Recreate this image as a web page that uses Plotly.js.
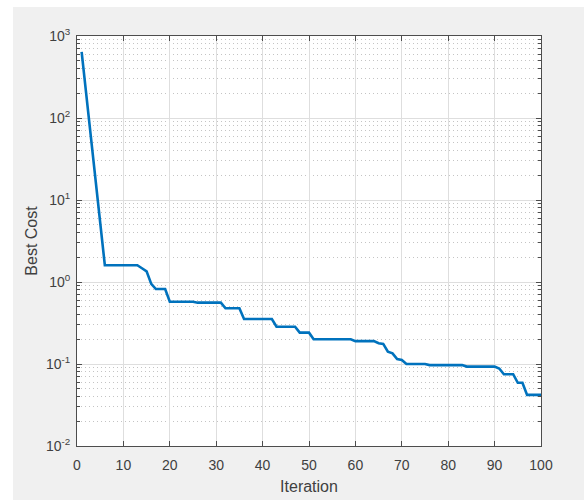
<!DOCTYPE html>
<html>
<head>
<meta charset="utf-8">
<script src="https://cdn.plot.ly/plotly-3.0.1.min.js"></script>
<style>html,body{margin:0;padding:0;background:#fff;}#chart{width:584px;height:500px;}</style>
</head>
<body>
<div id="chart"></div>
<script>
// Best cost per iteration
const iterations = Array.from({length: 100}, (_, i) => i + 1);
const bestCost = [
  640, 190, 57, 17.5, 5.3, 1.6, 1.6, 1.6, 1.6, 1.6,
  1.6, 1.6, 1.6, 1.47, 1.35, 0.95, 0.82, 0.82, 0.82, 0.575,
  0.575, 0.575, 0.575, 0.575, 0.575, 0.56, 0.56, 0.56, 0.56, 0.56,
  0.56, 0.478, 0.478, 0.478, 0.478, 0.354, 0.354, 0.354, 0.354, 0.354,
  0.354, 0.354, 0.285, 0.285, 0.285, 0.285, 0.285, 0.241, 0.241, 0.241,
  0.2, 0.2, 0.2, 0.2, 0.2, 0.2, 0.2, 0.2, 0.2, 0.19,
  0.19, 0.19, 0.19, 0.19, 0.179, 0.176, 0.141, 0.135, 0.115, 0.112,
  0.1, 0.1, 0.1, 0.1, 0.1, 0.097, 0.097, 0.097, 0.097, 0.097,
  0.097, 0.097, 0.097, 0.093, 0.093, 0.093, 0.093, 0.093, 0.093, 0.093,
  0.088, 0.075, 0.075, 0.075, 0.059, 0.059, 0.042, 0.042, 0.042, 0.042
];
const xTickVals = [0, 10, 20, 30, 40, 50, 60, 70, 80, 90, 100];
const yTickVals = [0.01, 0.1, 1, 10, 100, 1000];
const yTickText = ['10<sup>-2</sup>', '10<sup>-1</sup>', '10<sup>0</sup>', '10<sup>1</sup>', '10<sup>2</sup>', '10<sup>3</sup>'];
const minorMultipliers = [2, 3, 4, 5, 6, 7, 8, 9];

const yMinorVals = [];
yTickVals.slice(0, -1).forEach(d => minorMultipliers.forEach(m => yMinorVals.push(d * m)));

const axisColor = '#4d4d4d';
const font = {family: 'Liberation Sans, Arial, sans-serif', size: 14, color: '#404040'};
const titleFont = {family: 'Liberation Sans, Arial, sans-serif', size: 16, color: '#404040'};

const trace = {
  x: iterations, y: bestCost, type: 'scatter', mode: 'lines',
  line: {color: '#0072bd', width: 2.6}, hoverinfo: 'skip'
};

const L = 77, R = 43, T = 36, B = 54, W = 584, H = 500;
const pw = W - L - R, ph = H - T - B;
const px2x = p => (p - L) / pw;
const py2y = p => (H - B - p) / ph;

const layout = {
  width: W, height: H,
  margin: {l: L, r: R, t: T, b: B, pad: 0},
  paper_bgcolor: '#f0f0f0',
  plot_bgcolor: '#ffffff',
  font: font,
  showlegend: false,
  xaxis: {
    range: [0, 100], tickvals: xTickVals, ticks: 'inside', ticklen: 5, tickwidth: 1,
    tickcolor: axisColor, showline: true, linecolor: axisColor, linewidth: 1, mirror: 'allticks',
    showgrid: true, gridcolor: '#dedede', gridwidth: 1, zeroline: false,
    tickfont: font, ticklabelstandoff: 6,
    title: {text: 'Iteration', font: titleFont, standoff: 9}
  },
  yaxis: {
    type: 'log', range: [-2, 3], tickvals: yTickVals, ticktext: yTickText,
    ticks: 'inside', ticklen: 5, tickwidth: 1, tickcolor: axisColor,
    showline: true, linecolor: axisColor, linewidth: 1, mirror: 'allticks',
    showgrid: true, gridcolor: '#dedede', gridwidth: 1, zeroline: false,
    tickfont: font, ticklabelstandoff: 3,
    minor: {tickmode: 'array', tickvals: yMinorVals, ticks: 'inside', ticklen: 3, tickcolor: axisColor,
            showgrid: true, gridcolor: '#c4c4c4', griddash: '1px,3px', gridwidth: 1},
    title: {text: 'Best Cost', font: titleFont, standoff: 4}
  },
  shapes: [
    {type: 'rect', xref: 'paper', yref: 'paper', layer: 'below',
     x0: px2x(0), x1: px2x(13), y0: py2y(H), y1: py2y(0),
     fillcolor: '#ffffff', line: {width: 0}},
    {type: 'rect', xref: 'paper', yref: 'paper', layer: 'below',
     x0: px2x(0), x1: px2x(W), y0: py2y(7), y1: py2y(0),
     fillcolor: '#ffffff', line: {width: 0}}
  ]
};

Plotly.newPlot('chart', [trace], layout, {displayModeBar: false, staticPlot: true});
</script>
</body>
</html>
